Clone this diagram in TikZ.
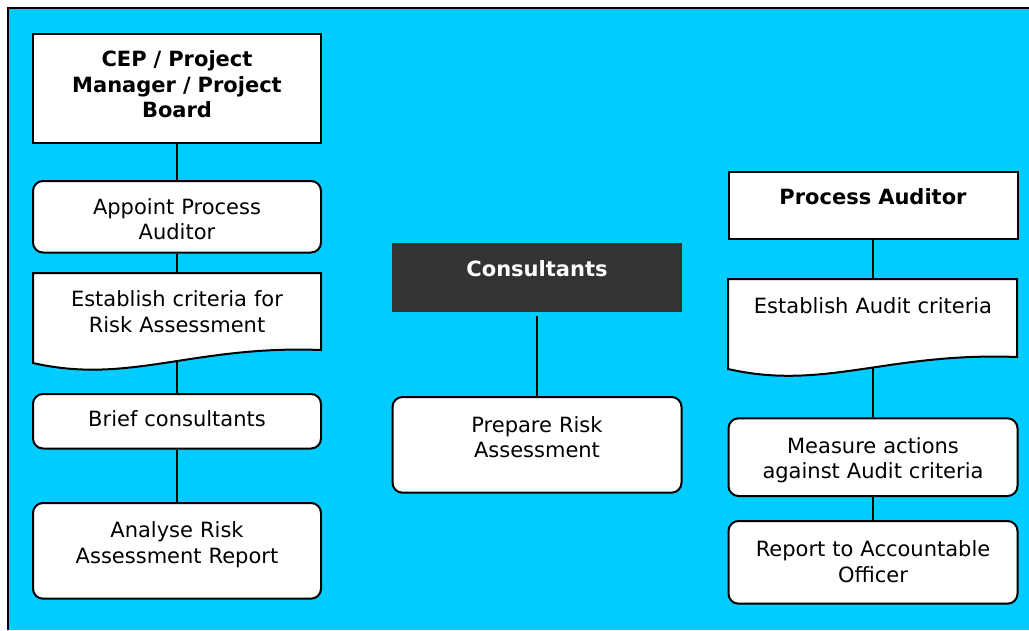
\documentclass[tikz,border=0pt]{standalone}
\usepackage{fontspec}
\setmainfont{DejaVu Sans}
\usetikzlibrary{backgrounds}
\definecolor{skyfill}{HTML}{00CCFF}
\definecolor{darkfill}{HTML}{333333}
\newcommand{\boxfont}{\fontsize{21}{25.5}\selectfont}
\begin{document}
\begin{tikzpicture}[x=1pt, y=-1pt,%
% common options for the boxes:
block/.style = {draw, fill=white, line width=2pt, align=center, anchor=north,
            text width=288pt, inner sep=0, font=\boxfont},
% bold headings:
head/.style = {block, font=\boxfont\bfseries},
% rounded steps:
rblock/.style = {block, rounded corners=10pt},
% text of the document shapes (outline drawn by hand):
doctext/.style = {block, draw=none, fill=none},
doc/.style = {draw, fill=white, line width=2pt},
link/.style = {line width=2pt}]
\useasboundingbox (0,0) rectangle (1029,630);
% document outlines
\draw[doc] (33,273) -- (321,273) -- (321,350) .. controls (193,345) and (129,385) .. (33,363) -- cycle;
\draw[doc] (728,279) -- (1017,279) -- (1017,357) .. controls (888,352) and (824,391) .. (728,369) -- cycle;
% left column
\node[head, text height=32.5pt, text depth=76pt] (cep) at (177,33) {CEP / Project\\Manager / Project\\Board};
\node[rblock, text height=33pt, text depth=38.5pt] (appoint) at (177,180) {Appoint Process\\Auditor};
\node[doctext, text height=32.7pt, text depth=44.3pt] (critA) at (177,273) {Establish criteria for\\Risk Assessment};
\node[rblock, text height=32.7pt, text depth=21.8pt] (brief) at (177,393) {Brief consultants};
\node[rblock, text height=34.7pt, text depth=61pt] (analyse) at (177,502) {Analyse Risk\\Assessment Report};
% middle column
\node[head, draw=none, fill=darkfill, text=white, text width=289.5pt,
      text height=33pt, text depth=36pt] (cons) at (537,242) {Consultants};
\node[rblock, text width=289pt, text height=35pt, text depth=60.7pt] (prep) at (537,396) {Prepare Risk\\Assessment};
% right column
\node[head, text width=289pt, text height=32.3pt, text depth=35pt] (paud) at (873,171) {Process Auditor};
\node[doctext, text width=289pt, text height=33.4pt, text depth=44pt] (critB) at (873,279.3) {Establish Audit criteria};
\node[rblock, text width=289pt, text height=35pt, text depth=42.7pt] (meas) at (873,417.3) {Measure actions\\against Audit criteria};
\node[rblock, text width=289pt, text height=35.7pt, text depth=47pt] (report) at (873,520) {Report to Accountable\\Officer};
\begin{scope}[on background layer]
\fill[skyfill] (8,8) rectangle (1029,630);
\draw[line width=2pt] (8,630) |- (1029,8);
\draw[link] (cep) -- (appoint) -- (critA) -- (brief) -- (analyse);
\draw[link] (cons.south) ++(0,3) -- (prep);
\draw[link] (paud) -- (critB) -- (meas) -- (report);
\end{scope}
\end{tikzpicture}
\end{document}
